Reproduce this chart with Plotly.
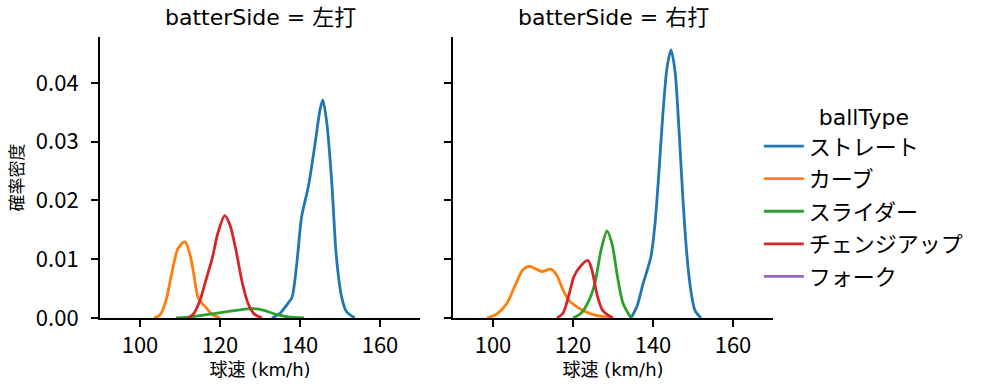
import plotly.graph_objects as go
from plotly.subplots import make_subplots

panels = ["左打", "右打"]
ball_types = ["ストレート", "カーブ", "スライダー", "チェンジアップ", "フォーク"]
colors = ["#1f77b4", "#ff7f0e", "#2ca02c", "#d62728", "#9467bd"]

# --- batterSide = 左打 ---
L_straight_x = [133, 135, 137, 138, 139.2, 140.4, 142.1, 143.8, 145.0, 145.7, 146.7, 147.9, 149.1, 150.4, 151.6, 153.7]
L_straight_y = [0, 0.0008, 0.0025, 0.0035, 0.0093, 0.0172, 0.0224, 0.0298, 0.0354, 0.0371, 0.0332, 0.0235, 0.0104, 0.0036, 0.0011, 0]
L_curve_x = [103.5, 105, 106.5, 108, 109.5, 111.2, 112.5, 113.5, 114.5, 115.5, 116.5, 118, 120]
L_curve_y = [0, 0.0005, 0.003, 0.0078, 0.0118, 0.0130, 0.0108, 0.0072, 0.0035, 0.0025, 0.0018, 0.0006, 0]
L_slider_x = [109, 113, 117, 121, 125, 128, 131, 134, 137, 141]
L_slider_y = [0, 0.0002, 0.0006, 0.0010, 0.0014, 0.0016, 0.0013, 0.0006, 0.0002, 0]
L_change_x = [112, 113.5, 115, 116.5, 118, 119.5, 121.2, 122.5, 124, 125.5, 127, 128.5, 130.5]
L_change_y = [0, 0.0008, 0.003, 0.0065, 0.010, 0.0145, 0.0174, 0.0158, 0.0115, 0.0062, 0.0025, 0.0007, 0]

# --- batterSide = 右打 ---
R_straight_x = [134.5, 136, 137.5, 138.5, 139.5, 140.5, 141.5, 142.5, 143.5, 144.5, 145.5, 146.5, 147.5, 148.5, 149.5, 150.5, 152]
R_straight_y = [0, 0.002, 0.0058, 0.0080, 0.0105, 0.016, 0.025, 0.035, 0.0425, 0.0456, 0.042, 0.032, 0.020, 0.0105, 0.0045, 0.0013, 0]
R_curve_x = [98.5, 101, 103.5, 105.5, 107.5, 109.1, 110.5, 112.2, 114.5, 116, 117.5, 119, 121, 123, 125.5, 130]
R_curve_y = [0, 0.0007, 0.0025, 0.0055, 0.0082, 0.0088, 0.0084, 0.0079, 0.0083, 0.0072, 0.0048, 0.0030, 0.0019, 0.0011, 0.0005, 0]
R_slider_x = [120, 122, 124, 125.5, 127, 128.5, 129.8, 131, 132.5, 134.5]
R_slider_y = [0, 0.0008, 0.0030, 0.0060, 0.0115, 0.0148, 0.0125, 0.0075, 0.0025, 0]
R_change_x = [116, 117.5, 119, 120.2, 121.5, 123.7, 124.8, 126, 127.5, 130]
R_change_y = [0, 0.0008, 0.0040, 0.0070, 0.0085, 0.0098, 0.0080, 0.0040, 0.0012, 0]

data = {
    0: [(L_straight_x, L_straight_y), (L_curve_x, L_curve_y), (L_slider_x, L_slider_y), (L_change_x, L_change_y), ([], [])],
    1: [(R_straight_x, R_straight_y), (R_curve_x, R_curve_y), (R_slider_x, R_slider_y), (R_change_x, R_change_y), ([], [])],
}

x_ticks = [100, 120, 140, 160]
y_ticks = [0.00, 0.01, 0.02, 0.03, 0.04]

CJK = "Noto Sans CJK JP"
MIX = "DejaVu Sans, Noto Sans CJK JP"

fig = make_subplots(rows=1, cols=2, shared_yaxes=True, horizontal_spacing=33 / 673,
                    subplot_titles=[f"batterSide = {p}" for p in panels])

for col in range(2):
    for i, name in enumerate(ball_types):
        xs, ys = data[col][i]
        if not xs:
            xs, ys = [None], [None]
        fig.add_trace(go.Scatter(
            x=xs, y=ys, mode="lines", name=name,
            line=dict(color=colors[i], width=2.8, shape="spline", smoothing=0.8),
            showlegend=(col == 0), legendgroup=name,
        ), row=1, col=col + 1)

axis_common = dict(showline=True, linecolor="black", linewidth=2, ticks="outside",
                   ticklen=7, tickwidth=1.8, tickcolor="black", showgrid=False,
                   zeroline=False, automargin=False,
                   tickfont=dict(size=22, color="black", family=CJK))
for c in (1, 2):
    fig.update_xaxes(range=[90, 170], tickvals=x_ticks, ticktext=[str(v) for v in x_ticks],
                     title=dict(text="球速 (km/h)", font=dict(size=18, color="black", family=MIX), standoff=4),
                     row=1, col=c, **axis_common)
    fig.update_yaxes(range=[0, 0.0478], tickvals=y_ticks, tickformat=".2f", ticklabelstandoff=8,
                     row=1, col=c, **axis_common)
fig.update_yaxes(title=dict(text="確率密度", font=dict(size=17, color="black", family=CJK), standoff=8),
                 row=1, col=1)
fig.update_yaxes(showticklabels=False, row=1, col=2)

for a in fig.layout.annotations:
    a.font = dict(size=22, color="black", family=MIX)
    a.yshift = 5

fig.update_layout(
    width=999, height=391,
    margin=dict(l=100, r=226, t=37, b=73),
    paper_bgcolor="white", plot_bgcolor="white",
    font=dict(family=MIX, color="black"),
    legend=dict(
        title=dict(text="ballType", font=dict(size=22, family=MIX, color="black"), side="top center"),
        font=dict(size=22, family=MIX, color="black"),
        x=0.979, xanchor="left", y=0.43, yanchor="middle",
        itemwidth=40, tracegroupgap=1, bgcolor="rgba(0,0,0,0)",
    ),
)

fig.write_html("out.html", config={"displayModeBar": False},
               post_script="document.body.style.margin='0';document.body.style.padding='0';")
